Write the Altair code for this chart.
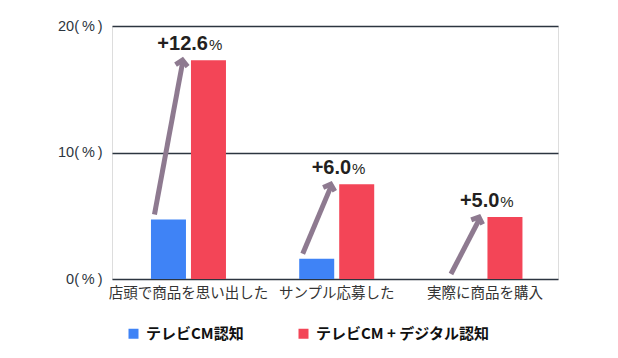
import altair as alt
import pandas as pd

categories = ["店頭で商品を思い出した", "サンプル応募した", "実際に商品を購入"]
series_names = ["テレビCM認知", "テレビCM + デジタル認知"]
tv_cm = [4.7, 1.6, 0.0]
tv_cm_digital = [17.3, 7.5, 4.9]
lift_labels = ["+12.6", "+6.0", "+5.0"]
y_ticks = [0, 10, 20]

BLUE = "#3f83f6"
RED = "#f34557"
ARROW = "#8e7a90"
GRID = "#2c3540"
FONT = "Noto Sans CJK JP"
NUMFONT = "Liberation Sans"

bars = pd.DataFrame({
    "category": categories * 2,
    "series": [series_names[0]] * 3 + [series_names[1]] * 3,
    "value": tv_cm + tv_cm_digital,
})
pairs = pd.DataFrame({
    "category": categories,
    "tv": tv_cm,
    "digital": tv_cm_digital,
    "lift": lift_labels,
})

W, H = 446, 253
px_per_unit = H / 20.0

x_enc = alt.X(
    "category:N", sort=categories, title=None,
    scale=alt.Scale(paddingInner=0.4941, paddingOuter=0.2513, align=0.523),
    axis=alt.Axis(labelAngle=0, labelFont=FONT, labelFontSize=14.5, labelColor="#333333",
                  labelPadding=7, domain=False, ticks=False, labelLimit=300),
)
y_enc = alt.Y(
    "value:Q", title=None, scale=alt.Scale(domain=[0, 20]),
    axis=alt.Axis(values=y_ticks, labelExpr="datum.value + '(\u2009%\u2009)'", labelFont=NUMFONT,
                  labelFontSize=14.5, labelColor=GRID, labelPadding=10, domain=False,
                  ticks=False, grid=True, gridColor=GRID, gridWidth=1.5),
)

bar = alt.Chart(bars).mark_bar().encode(
    x=x_enc,
    xOffset=alt.XOffset("series:N", sort=series_names, scale=alt.Scale(paddingInner=0.125)),
    y=y_enc,
    color=alt.Color(
        "series:N", sort=series_names,
        scale=alt.Scale(domain=series_names, range=[BLUE, RED]),
        legend=alt.Legend(
            title=None, orient="none", legendX=14, legendY=300, direction="horizontal",
            symbolType="square", symbolSize=100, symbolStrokeWidth=0,
            labelFont=FONT, labelFontSize=15, labelFontWeight="bold", labelColor="#111111",
            columnPadding=52, labelOffset=5, labelLimit=400,
        ),
    ),
)

arrow = alt.Chart(pairs).mark_rule(
    color=ARROW, strokeWidth=5, xOffset=-34, x2Offset=-6, yOffset=-5, y2Offset=3
).encode(
    x=x_enc, x2=alt.X2("category"), y=alt.Y("tv:Q"), y2=alt.Y2("digital:Q"),
)

head = alt.Chart(pairs).transform_calculate(
    ang=f"atan2(27, (datum.digital - datum.tv) * {px_per_unit} + 7) * 180 / PI"
).mark_point(
    shape="M-1,0.9L0,0L1,0.9", filled=False, strokeWidth=5, size=150, color=ARROW,
    opacity=1, xOffset=-6, yOffset=0, strokeJoin="miter",
).encode(
    x=x_enc, y=alt.Y("digital:Q"), angle=alt.Angle("ang:Q", scale=None),
)

num = alt.Chart(pairs).transform_calculate(
    off="37.5 + length(datum.lift) * 5.1 - 6"
).mark_text(
    font=NUMFONT, fontSize=20, fontWeight="bold", align="right", baseline="alphabetic",
    dy=-10, color="#231f20",
).encode(
    x=x_enc, y=alt.Y("digital:Q"), text="lift:N", xOffset=alt.XOffset("off:Q", scale=None),
)

pct = alt.Chart(pairs).transform_calculate(
    off="37.5 + length(datum.lift) * 5.1 - 5", p="'%'"
).mark_text(
    font=NUMFONT, fontSize=15, align="left", baseline="alphabetic",
    dy=-10, color="#231f20",
).encode(
    x=x_enc, y=alt.Y("digital:Q"), text="p:N", xOffset=alt.XOffset("off:Q", scale=None),
)

chart = alt.layer(bar, arrow, head, num, pct).resolve_scale(
    xOffset="independent"
).properties(
    width=W, height=H,
    autosize=alt.AutoSizeParams(type="none"),
    padding={"left": 112, "top": 26, "right": 60, "bottom": 79},
).configure_view(stroke=None).configure(background="white")

chart.save("out.html", embed_options={"renderer": "svg", "actions": False})
